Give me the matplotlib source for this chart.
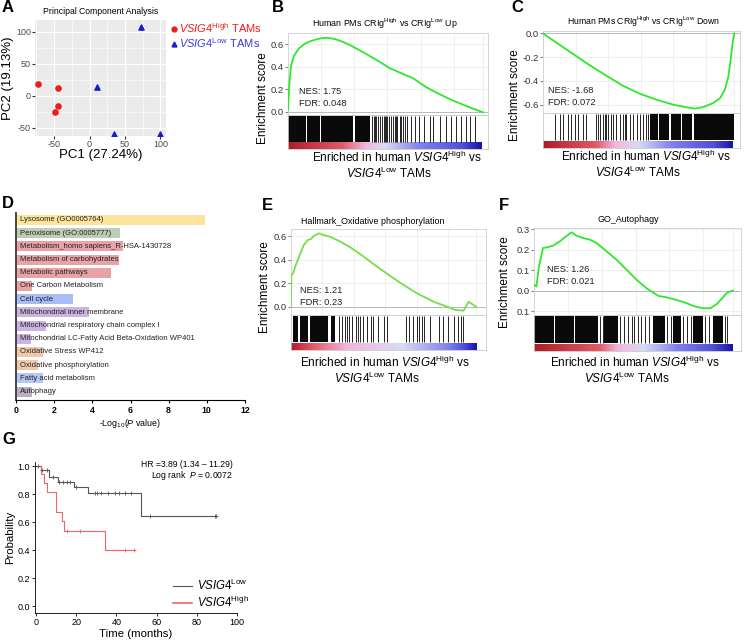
import numpy as np
import matplotlib
matplotlib.use('Agg')
import matplotlib.pyplot as plt
from matplotlib.colors import LinearSegmentedColormap
from matplotlib.lines import Line2D

plt.rcParams['font.family'] = ['Liberation Sans', 'DejaVu Sans']
plt.rcParams['mathtext.fontset'] = 'custom'
plt.rcParams['mathtext.rm'] = 'Liberation Sans'
plt.rcParams['mathtext.it'] = 'Liberation Sans:italic'
plt.rcParams['mathtext.bf'] = 'Liberation Sans:bold'
plt.rcParams['axes.unicode_minus'] = False

# ---- data ----
# A: PCA
pc_high_x = [-73, -45, -45, -49]
pc_high_y = [18, 12, -16, -26]
pc_low_x = [10, 73, 35, 100]
pc_low_y = [13, 107, -60, -60]

# B: running enrichment score
b_pos = [0, 0.007, 0.015, 0.029, 0.055, 0.089, 0.123, 0.165, 0.2, 0.233, 0.267, 0.319,
         0.387, 0.455, 0.523, 0.591, 0.642, 0.71, 0.778, 0.846, 0.932, 1.0]
b_es = [0.015, 0.25, 0.40, 0.49, 0.56, 0.606, 0.63, 0.65, 0.656, 0.647, 0.63, 0.59,
        0.526, 0.458, 0.384, 0.334, 0.296, 0.216, 0.154, 0.098, 0.038, -0.006]
b_dense = [(0.0, 0.092), (0.098, 0.162), (0.168, 0.335), (0.342, 0.42)]
b_hits = [0.43, 0.44, 0.445, 0.45, 0.46, 0.47, 0.48, 0.49, 0.50, 0.505, 0.51, 0.52, 0.53,
          0.54, 0.55, 0.555, 0.56, 0.575, 0.58, 0.59, 0.60, 0.61, 0.63, 0.65, 0.67, 0.70,
          0.727, 0.745, 0.78, 0.812, 0.838, 0.862, 0.89, 0.915, 0.932, 0.957]

# C
c_pos = [0, 0.07, 0.157, 0.244, 0.332, 0.419, 0.506, 0.593, 0.681, 0.75, 0.794, 0.838,
         0.89, 0.925, 0.951, 0.969, 0.981, 0.991, 1.0]
c_es = [0.0, -0.078, -0.173, -0.268, -0.357, -0.441, -0.508, -0.558, -0.6, -0.622, -0.633,
        -0.62, -0.586, -0.547, -0.474, -0.363, -0.223, -0.084, 0.0]
c_dense = [(0.56, 0.60), (0.606, 0.66), (0.668, 0.72), (0.726, 0.78), (0.79, 1.0)]
c_hits = [0.061, 0.087, 0.105, 0.131, 0.148, 0.166, 0.183, 0.209, 0.227, 0.279, 0.288,
          0.297, 0.314, 0.323, 0.332, 0.34, 0.358, 0.366, 0.384, 0.401, 0.419, 0.428, 0.436,
          0.454, 0.471, 0.489, 0.506, 0.524, 0.541, 0.55]

# E
e_pos = [0, 0.002, 0.011, 0.023, 0.032, 0.05, 0.068, 0.09, 0.108, 0.122, 0.15, 0.177, 0.213,
         0.267, 0.321, 0.393, 0.465, 0.537, 0.609, 0.681, 0.771, 0.843, 0.888, 0.933, 0.96,
         0.978, 1.0]
e_es = [0.0, 0.27, 0.283, 0.34, 0.38, 0.45, 0.52, 0.566, 0.575, 0.6, 0.623, 0.608, 0.594,
        0.552, 0.504, 0.425, 0.34, 0.26, 0.184, 0.113, 0.042, 0.0, -0.028, -0.034, 0.042,
        0.023, 0.0]
e_dense = [(0.01, 0.04), (0.05, 0.09), (0.10, 0.20), (0.215, 0.24)]
e_hits = [0.26, 0.275, 0.29, 0.30, 0.315, 0.33, 0.35, 0.36, 0.375, 0.39, 0.41, 0.43, 0.445,
          0.47, 0.50, 0.52, 0.62, 0.64, 0.66, 0.68, 0.69, 0.71, 0.72, 0.75, 0.80, 0.82, 0.85,
          0.88, 0.90, 0.92, 0.93]

# F
f_pos = [0, 0.012, 0.025, 0.045, 0.071, 0.096, 0.13, 0.161, 0.188, 0.213, 0.247, 0.281,
         0.314, 0.365, 0.415, 0.466, 0.516, 0.566, 0.625, 0.667, 0.718, 0.768, 0.81, 0.852,
         0.886, 0.919, 0.953, 0.97, 1.0]
f_es = [0.028, 0.02, 0.117, 0.207, 0.212, 0.219, 0.24, 0.264, 0.284, 0.268, 0.256, 0.248,
        0.232, 0.191, 0.15, 0.101, 0.052, 0.011, -0.026, -0.033, -0.046, -0.062, -0.078,
        -0.086, -0.086, -0.065, -0.029, -0.01, 0.0]
f_dense = [(0.0, 0.10), (0.106, 0.20), (0.206, 0.32), (0.35, 0.42), (0.60, 0.66), (0.70, 0.74),
           (0.80, 0.85), (0.90, 0.95)]
f_hits = [0.33, 0.345, 0.43, 0.45, 0.47, 0.49, 0.50, 0.52, 0.54, 0.56, 0.58, 0.67, 0.69,
          0.75, 0.77, 0.79, 0.86, 0.88, 0.96, 0.97]

rank_colors = ['#b01c28', '#e25a68', '#f2b6dc', '#dadaf4', '#8080ee', '#5050dc', '#1414a8']
b_stops = [0, 0.28, 0.40, 0.50, 0.68, 0.90, 1.0]
c_stops = [0, 0.28, 0.38, 0.50, 0.68, 0.90, 1.0]
e_stops = [0, 0.12, 0.30, 0.60, 0.85, 0.93, 1.0]
f_stops = [0, 0.33, 0.42, 0.55, 0.72, 0.90, 1.0]

# D: enrichment terms
d_terms = ['Lysosome (GO0005764)', 'Peroxisome (GO:0005777)',
           'Metabolism_homo sapiens_R-HSA-1430728', 'Metabolism of carbohydrates',
           'Metabolic pathways', 'One Carbon Metabolism', 'Cell cycle',
           'Mitochondrial inner membrane', 'Mitochondrial respiratory chain complex I',
           'Mitochondrial LC-Fatty Acid Beta-Oxidation WP401', 'Oxidative Stress WP412',
           'Oxidative phosphorylation', 'Fatty acid metabolism', 'Autophagy']
d_logp = [9.9, 5.45, 5.6, 5.4, 4.96, 0.86, 2.97, 3.8, 1.55, 0.79, 1.43, 1.14, 1.40, 0.86]
d_colors = ['#fde49c', '#bccdb8', '#e9a3a6', '#e9a3a6', '#e9a3a6', '#e9a3a6', '#a9bcf4',
            '#cbb4e2', '#cbb4e2', '#cbb4e2', '#f2c8a8', '#f2c8a8', '#b4c8f4', '#bcb0c0']

# G: Kaplan-Meier
low_t = [0, 2.3, 6.5, 11.1, 18.9, 25.9, 52.0]
low_s = [1.0, 0.976, 0.924, 0.889, 0.853, 0.81, 0.645]
low_end = 89.7
low_cens = [1.2, 3.2, 5.5, 8.3, 11.6, 13.6, 15.3, 16.9, 20.0, 29.2, 30.2, 32.2, 36.0, 39.4,
            41.5, 44.4, 47.5, 56.8, 88.9, 89.7]
high_t = [0, 2.3, 4.2, 5.3, 10.0, 13.1, 14.1, 34.2]
high_s = [1.0, 0.943, 0.877, 0.815, 0.675, 0.609, 0.54, 0.403]
high_end = 49.3
high_cens = [15.3, 21.9, 44.4, 48.8]

# ---- figure ----
W, H = 745, 642
fig = plt.figure(figsize=(W / 100, H / 100), dpi=100)


def px_axes(left, top, right, bottom):
    return fig.add_axes([left / W, 1 - bottom / H, (right - left) / W, (bottom - top) / H])


def ftext(x, y, s, **kw):
    fig.text(x / W, 1 - y / H, s, **kw)


hi_txt = r'$\it{VSIG4}^{\rm High}$'
lo_txt = r'$\it{VSIG4}^{\rm Low}$'

# panel letters
for lab, x, y in [('A', 2, 7), ('B', 272, 7), ('C', 511, 8), ('D', 2, 203),
                  ('E', 262, 206), ('F', 499, 206), ('G', 2, 440)]:
    ftext(x, y, lab, fontsize=12, fontweight='bold', va='center', ha='left')

# ---- A ----
ax = px_axes(35, 20, 166, 136)
ax.set_facecolor('#ebebeb')
ax.scatter(pc_high_x, pc_high_y, s=14, color='#f21a1a', marker='o', zorder=3)
ax.scatter(pc_low_x, pc_low_y, s=14, color='#1a1ad0', marker='^', zorder=3)
ax.set_xlim(-77, 108)
ax.set_ylim(-63, 118)
ax.set_xticks([-50, 0, 50, 100])
ax.set_yticks([-50, 0, 50, 100])
ax.set_xticks([-75, -25, 25, 75], minor=True)
ax.set_yticks([-25, 25, 75], minor=True)
ax.grid(True, which='major', color='white', lw=0.8)
ax.grid(True, which='minor', color='white', lw=0.4)
ax.tick_params(which='minor', length=0)
ax.tick_params(which='major', labelsize=6.5, length=2, color='#333333', labelcolor='#4d4d4d',
               pad=1)
ax.set_axisbelow(True)
for s in ax.spines.values():
    s.set_visible(False)
ax.set_xlabel('PC1 (27.24%)', fontsize=9.5, labelpad=0)
ax.set_ylabel('PC2 (19.13%)', fontsize=9.5, labelpad=1)
ax.set_title('Principal Component Analysis', fontsize=6.2, pad=4)
hdl = [Line2D([], [], ls='', marker='o', ms=3.5, color='#f21a1a'),
       Line2D([], [], ls='', marker='^', ms=3.5, color='#1a1ad0')]
leg = ax.legend(hdl, [hi_txt + ' TAMs', lo_txt + ' TAMs'], loc='upper left',
                bbox_to_anchor=(1.0, 1.02), frameon=False, fontsize=8,
                handletextpad=0.1, handlelength=0.8, borderaxespad=0.2, labelspacing=0.1,
                borderpad=0.1)
for t, c in zip(leg.get_texts(), ['#f21a1a', '#3a3ae0']):
    t.set_color(c)


# ---- GSEA panels ----
def gsea(es_box, hit_bottom, pos, es, line_color, ylim, yticks, ylabels, stops, cb_end,
         dense, hits, xmax, nes_xy, nes, fdr):
    l, t, r, b = es_box
    ax1 = px_axes(l, t, r, b)
    ax1.plot(pos, es, color=line_color, lw=1.3, zorder=3)
    ax1.axhline(0, color='#b0b0b0', lw=0.6, zorder=1)
    ax1.set_xlim(0, xmax)
    ax1.set_ylim(*ylim)
    ax1.set_yticks(yticks)
    ax1.set_yticklabels(ylabels)
    ax1.set_xticks([0.17, 0.34, 0.51, 0.68, 0.85, 1.0])
    ax1.tick_params(axis='x', length=0, labelbottom=False)
    ax1.tick_params(axis='y', labelsize=6.8, length=2, color='#888888', pad=1,
                    labelcolor='#333333')
    ax1.grid(True, color='#e9e9e9', lw=0.5)
    ax1.set_axisbelow(True)
    for s in ax1.spines.values():
        s.set_color('#d0d0d0')
        s.set_linewidth(0.6)
    ax1.text(nes_xy[0], nes_xy[1], 'NES: ' + nes, transform=ax1.transAxes, fontsize=6.7,
             va='center', color='#222222')
    ax1.text(nes_xy[0], nes_xy[1] - 0.145, 'FDR: ' + fdr, transform=ax1.transAxes,
             fontsize=6.7, va='center', color='#222222')

    ax2 = px_axes(l, b, r, hit_bottom)
    ax2.set_xlim(0, xmax)
    ax2.set_ylim(0, 1)
    for a0, a1 in dense:
        ax2.axvspan(a0, a1, ymin=0.22, ymax=0.96, color='#0a0a0a', lw=0)
    ax2.vlines(hits, 0.22, 0.96, color='black', lw=0.6)
    cmap = LinearSegmentedColormap.from_list('rank', list(zip(stops, rank_colors)))
    ax2.imshow(np.linspace(0, 1, 256)[None, :], cmap=cmap, aspect='auto',
               extent=(0, cb_end, 0, 0.18))
    ax2.set_xticks([])
    ax2.set_yticks([])
    for s in ax2.spines.values():
        s.set_color('#c8c8c8')
        s.set_linewidth(0.6)
    return ax1


ax_b = gsea((288, 33, 488, 115), 149, b_pos, b_es, '#2de82d', (-0.03, 0.698),
            [0.0, 0.2, 0.4, 0.6], ['0.0', '0.2', '0.4', '0.6'], b_stops, 0.995,
            b_dense, b_hits, 1.026, (0.053, 0.29), '1.75', '0.048')
ax_c = gsea((543, 31, 740, 113), 148, c_pos, c_es, '#2de82d', (-0.67, 0.02),
            [0.0, -0.2, -0.4, -0.6], ['0.0', '-0.2', '-0.4', '-0.6'], c_stops, 0.99,
            c_dense, c_hits, 1.03, (0.025, 0.275), '-1.68', '0.072')
ax_e = gsea((291, 229, 486, 315), 350, e_pos, e_es, '#72e048', (-0.071, 0.66),
            [0.0, 0.2, 0.4, 0.6], ['0.0', '0.2', '0.4', '0.6'], e_stops, 1.0,
            e_dense, e_hits, 1.054, (0.044, 0.29), '1.21', '0.23')
ax_f = gsea((534, 228, 741, 315), 351, f_pos, f_es, '#2de82d', (-0.119, 0.305),
            [0.3, 0.2, 0.1, 0.0, -0.1], ['0.3', '0.2', '0.1', '0.0', '0.1'], f_stops, 0.995,
            f_dense, f_hits, 1.04, (0.063, 0.527), '1.26', '0.021')

ftext(385, 24, r'Human PMs CRIg$^{\rm High}$ vs CRIg$^{\rm Low}$ Up', fontsize=6.4,
      ha='center', va='center')
ftext(643, 22, r'Human PMs CRIg$^{\rm High}$ vs CRIg$^{\rm Low}$ Down', fontsize=6.2,
      ha='center', va='center')
ftext(373, 221, 'Hallmark_Oxidative phosphorylation', fontsize=6.4, ha='center', va='center')
ftext(628, 219, 'GO_Autophagy', fontsize=6.4, ha='center', va='center')

for x, y in [(263, 98), (515, 95), (265, 287), (505, 282)]:
    ftext(x, y, 'Enrichment score', fontsize=8.5, rotation=90, ha='center', va='center')

for x, y in [(397, 157), (646, 156), (385, 362), (635, 362)]:
    ftext(x, y, 'Enriched in human ' + hi_txt + ' vs', fontsize=8.5, ha='center',
          va='center')
    ftext(x - 8, y + 16, lo_txt + ' TAMs', fontsize=8.5, ha='center', va='center')

# ---- D ----
ax = px_axes(16, 213, 245, 400)
ypos = np.arange(len(d_terms))
ax.barh(ypos, d_logp, height=0.76, color=d_colors, left=0)
for i, term in enumerate(d_terms):
    ax.text(0.2, i, term, fontsize=5.5, va='center', ha='left', color='#222222')
ax.set_ylim(13.64, -0.53)
ax.set_xlim(0, 12)
ax.set_yticks([])
ax.set_xticks(range(0, 13, 2))
ax.set_xticklabels([str(v) for v in range(0, 13, 2)], fontweight='bold')
ax.tick_params(axis='x', labelsize=6.3, length=2.5, width=0.8, pad=1.5)
ax.spines['top'].set_visible(False)
ax.spines['right'].set_visible(False)
ax.spines['left'].set_linewidth(1.4)
ax.spines['left'].set_color('#444444')
ax.spines['bottom'].set_linewidth(0.8)
ax.set_xlabel(r'-Log$_{10}$($\it{P}$ value)', fontsize=6.4, labelpad=2)

# ---- G ----
ax = px_axes(35, 462, 237, 613)
ax.step(low_t + [low_end], low_s + [low_s[-1]], where='post', color='#555555', lw=0.8)
ax.step(high_t + [high_end], high_s + [high_s[-1]], where='post', color='#f06464', lw=0.8)
lc = np.array(low_cens)
hc = np.array(high_cens)
ax.plot(lc, np.array(low_s)[np.searchsorted(low_t, lc, side='right') - 1], ls='',
        marker='+', ms=3.5, mew=0.6, color='#555555')
ax.plot(hc, np.array(high_s)[np.searchsorted(high_t, hc, side='right') - 1], ls='',
        marker='+', ms=3.5, mew=0.6, color='#f06464')
ax.set_xlim(-0.5, 100)
ax.set_ylim(-0.05, 1.03)
ax.set_xticks(range(0, 101, 20))
ax.set_yticks([0, 0.2, 0.4, 0.6, 0.8, 1.0])
ax.set_yticklabels(['0.0', '0.2', '0.4', '0.6', '0.8', '1.0'])
ax.tick_params(labelsize=6.5, length=2.5, width=0.6, pad=1)
ax.spines['top'].set_visible(False)
ax.spines['right'].set_visible(False)
for s in ['left', 'bottom']:
    ax.spines[s].set_linewidth(0.6)
ftext(136, 634, 'Time (months)', fontsize=8.2, ha='center', va='center')
ax.set_ylabel('Probability', fontsize=8.2, labelpad=2)
ax.text(97.7, 1.01, 'HR =3.89 (1.34 \u2013 11.29)', fontsize=6.2, ha='right', va='center')
ax.text(97.7, 0.937, r'Log rank  $\it{P}$ = 0.0072', fontsize=6.2, ha='right', va='center')
ax.legend([Line2D([], [], color='#555555', lw=0.8), Line2D([], [], color='#f06464', lw=1.2)],
          [lo_txt, hi_txt], loc='lower right', bbox_to_anchor=(250 / W, 1 - 611 / H),
          bbox_transform=fig.transFigure, frameon=False, fontsize=8.3, handlelength=1.7,
          handletextpad=0.4, labelspacing=0.15, borderpad=0.1, borderaxespad=0)

fig.savefig('out.png', dpi=100)
plt.close(fig)
